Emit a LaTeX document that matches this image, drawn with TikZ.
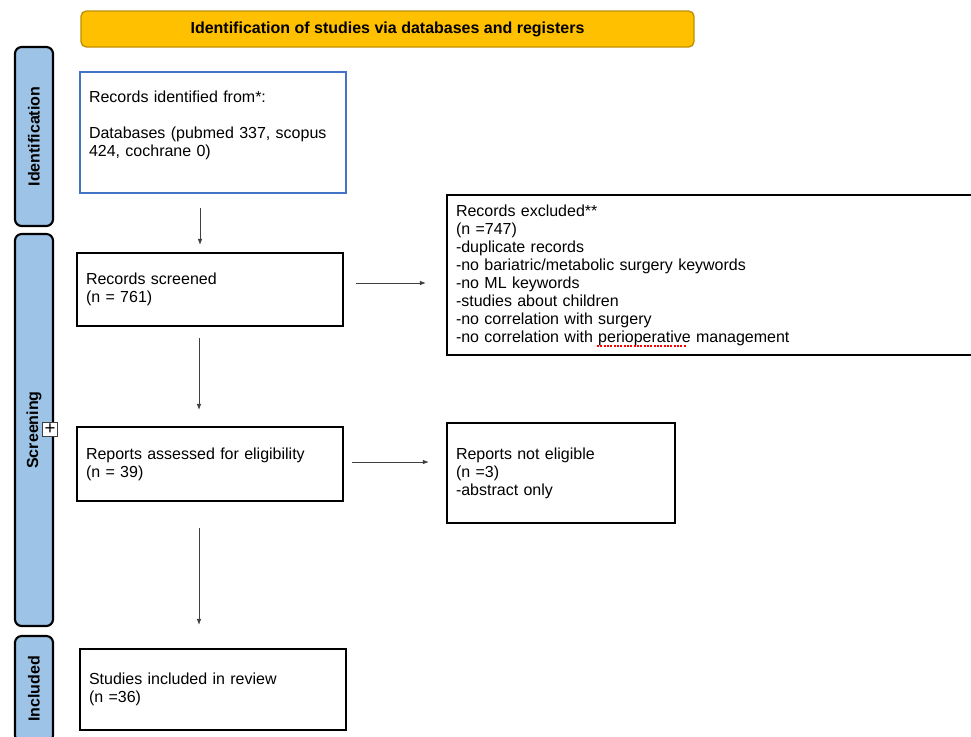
\documentclass[tikz,border=0pt]{standalone}
\usepackage{fontspec}
\setmainfont{Liberation Sans}
\usetikzlibrary{arrows.meta}

\definecolor{bannergold}{HTML}{FFC000}
\definecolor{bannerrim}{HTML}{BF9000}
\definecolor{phaseblue}{HTML}{9DC3E6}
\definecolor{boxblue}{HTML}{4472C4}
\definecolor{arrowgray}{HTML}{404040}

\begin{document}
\begin{tikzpicture}[x=0.75pt, y=-0.75pt,
  every node/.style={font=\fontsize{12}{13.5}\selectfont},
  flowbox/.style={draw, line width=1.6pt, align=left, inner xsep=6.75pt},
  phase/.style={draw, line width=1.6pt, fill=phaseblue, rounded corners=5pt, rotate=90,
    minimum height=28.5pt, font=\fontsize{12}{13.5}\selectfont\bfseries},
  flow/.style={draw=arrowgray, line width=0.75pt, -{Latex[length=4.5pt,width=3.5pt]}}]
  \useasboundingbox (0,0) rectangle (971,736);

  \node[draw=bannerrim, line width=1pt, fill=bannergold, rounded corners=4pt,
    minimum width=459.75pt, minimum height=27pt,
    font=\fontsize{12}{13.5}\selectfont\bfseries] (title) at (387.5,29)
    {Identification of studies via databases and registers};

  \node[phase, minimum width=134.25pt] (ident) at (34,136.5) {Identification};
  \node[phase, minimum width=294pt] (screen) at (34,430) {Screening};
  \node[phase, minimum width=79.5pt] (incl) at (34,689) {Included};
  \node[draw=arrowgray, fill=white, line width=0.7pt, minimum size=11pt, inner sep=0pt,
    font=\fontsize{14}{14}\selectfont] (expand) at (50,429.5) {+};

  \node[flowbox, draw=boxblue, line width=1.2pt, text width=186pt, minimum height=90.75pt]
    (found) at (213,132.5)
    {Records identified from*:\\[13.5pt]Databases (pubmed 337, scopus\\424, cochrane 0)\\ \mbox{}};
  \node[flowbox, text width=186pt, minimum height=54.75pt] (screened) at (210,289.5)
    {Records screened\\(n = 761)};
  \node[flowbox, text width=381.75pt, minimum height=120pt] (excluded) at (710.5,275)
    {Records excluded**\\(n =747)\\-duplicate records\\-no bariatric/metabolic surgery keywords\\-no ML keywords\\-studies about children\\-no correlation with surgery\\-no correlation with perioperative management};
  \node[flowbox, text width=186pt, minimum height=55.5pt] (assessed) at (210,464)
    {Reports assessed for eligibility\\(n = 39)};
  \node[flowbox, text width=157.5pt, minimum height=75pt] (noteligible) at (561,473)
    {Reports not eligible\\(n =3)\\-abstract only};
  \node[flowbox, text width=186pt, minimum height=60.75pt] (included) at (213,689.5)
    {Studies included in review\\(n =36)};

  \draw[red, line width=1pt, dash pattern=on 1.5pt off 1pt] (597,346) -- (687,346);

  \draw[flow, shorten <=10.5pt, shorten >=5.25pt] ([xshift=-9.75pt]found.south) -- ([xshift=-7.5pt]screened.north);
  \draw[flow, shorten <=8.25pt, shorten >=12pt] ([xshift=-8.25pt]screened.south) -- ([xshift=-8.25pt]assessed.north);
  \draw[flow, shorten <=19.5pt, shorten >=17.25pt] ([xshift=-8.25pt]assessed.south) -- ([xshift=-10.5pt]included.north);
  \draw[flow, shorten <=9pt, shorten >=15pt] ([yshift=4.875pt]screened.east) -- ([yshift=-6pt]excluded.west);
  \draw[flow, shorten <=6pt, shorten >=12.75pt] ([yshift=1.5pt]assessed.east) -- ([yshift=8.25pt]noteligible.west);
\end{tikzpicture}
\end{document}
